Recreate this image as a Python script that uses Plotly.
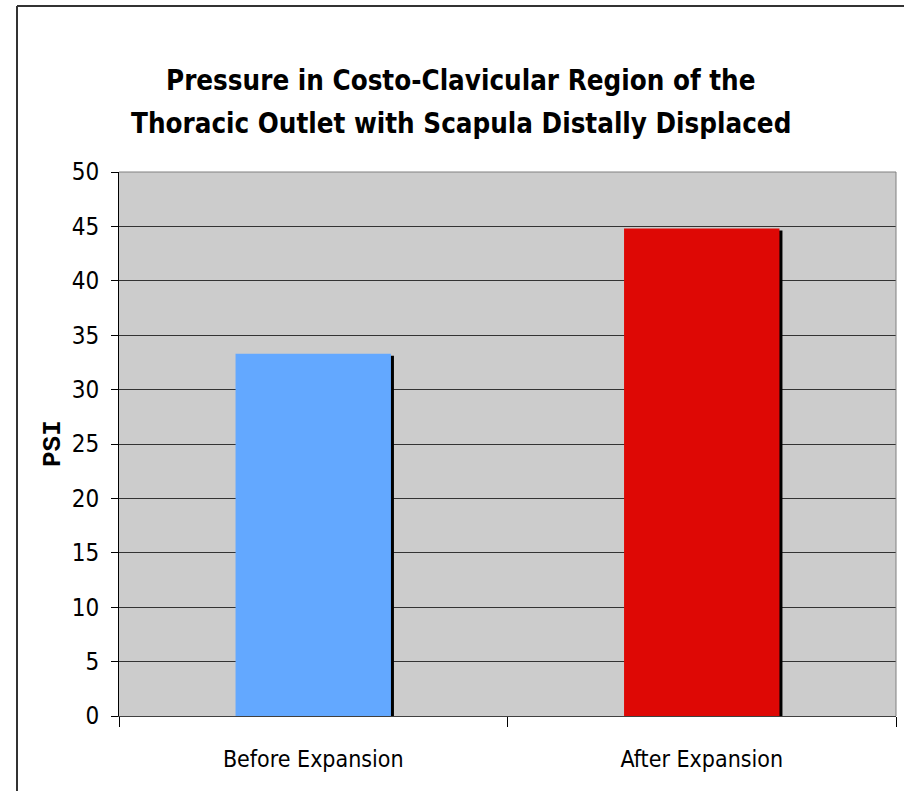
import plotly.graph_objects as go

# Chart data
categories = ["Before Expansion", "After Expansion"]
psi_values = [33.3, 44.8]
bar_colors = ["#63a8ff", "#de0805"]
title_lines = [
    "Pressure in Costo-Clavicular Region of the",
    "Thoracic Outlet with Scapula Distally Displaced",
]
y_ticks = list(range(0, 51, 5))

W, H = 904, 791
M_L, M_R, M_T, M_B = 119, 8, 172, 75
plot_w = W - M_L - M_R
plot_h = H - M_T - M_B

# pixel helpers for annotations / frame positions (paper coordinates)
def px_x(x):
    return (x - M_L) / plot_w

def px_y(y):
    return 1 - (y - M_T) / plot_h

units_per_px_y = 50 / plot_h
units_per_px_x = 2 / plot_w

bar_w = 0.4
shadow_dx = 3 * units_per_px_x
shadow_dy = 2 * units_per_px_y

fig = go.Figure()

# drop shadow behind each bar
fig.add_trace(go.Bar(
    x=categories,
    y=[v - shadow_dy for v in psi_values],
    width=bar_w,
    offset=-bar_w / 2 + shadow_dx,
    marker=dict(color="#000000", line=dict(width=0)),
    hoverinfo="skip",
    showlegend=False,
))

fig.add_trace(go.Bar(
    x=categories,
    y=psi_values,
    width=bar_w,
    offset=-bar_w / 2,
    marker=dict(color=bar_colors, line=dict(width=0)),
    showlegend=False,
))

font_main = "DejaVu Sans Condensed, DejaVu Sans, sans-serif"

annotations = []
for i, line in enumerate(title_lines):
    annotations.append(dict(
        text=line, x=px_x(461), y=px_y(80 + 43 * i),
        xref="paper", yref="paper", xanchor="center", yanchor="middle",
        showarrow=False,
        font=dict(family=font_main, size=27.5, color="#000000", weight="bold"),
    ))
annotations.append(dict(
    text="PSI", x=px_x(53), y=px_y(444),
    xref="paper", yref="paper", xanchor="center", yanchor="middle",
    textangle=-90, showarrow=False,
    font=dict(family="Liberation Mono, DejaVu Sans Mono, monospace",
              size=26, color="#000000", weight="bold"),
))

shapes = [
    # outer chart frame (left and top edges)
    dict(type="line", xref="paper", yref="paper",
         x0=px_x(17), x1=px_x(W + 2), y0=px_y(6), y1=px_y(6),
         line=dict(color="#333333", width=2)),
    dict(type="line", xref="paper", yref="paper",
         x0=px_x(17), x1=px_x(17), y0=px_y(6), y1=px_y(H + 2),
         line=dict(color="#333333", width=2)),
    # plot area top and right border
    dict(type="line", xref="paper", yref="paper",
         x0=0, x1=1, y0=1, y1=1, line=dict(color="#808080", width=1)),
    dict(type="line", xref="paper", yref="paper",
         x0=1, x1=1, y0=0, y1=1, line=dict(color="#808080", width=1)),
]

fig.update_layout(
    width=W, height=H,
    margin=dict(l=M_L, r=M_R, t=M_T, b=M_B, pad=0),
    paper_bgcolor="#ffffff",
    plot_bgcolor="#cccccc",
    barmode="overlay",
    annotations=annotations,
    shapes=shapes,
    font=dict(family=font_main, color="#000000"),
)

fig.update_xaxes(
    type="category",
    showgrid=False,
    showline=True, linecolor="#404040", linewidth=1,
    ticks="outside", tickson="boundaries", ticklen=10,
    tickcolor="#000000", tickwidth=1,
    tickfont=dict(family=font_main, size=23, color="#000000"),
    ticklabelstandoff=22,
)

fig.update_yaxes(
    range=[0, 50],
    tickvals=y_ticks,
    showgrid=True, gridcolor="#333333", gridwidth=1,
    zeroline=False,
    showline=True, linecolor="#000000", linewidth=1,
    ticks="outside", ticklen=7, tickcolor="#000000", tickwidth=1,
    tickfont=dict(family=font_main, size=24, color="#000000"),
    ticklabelstandoff=7,
)

fig.write_html("out.html")
